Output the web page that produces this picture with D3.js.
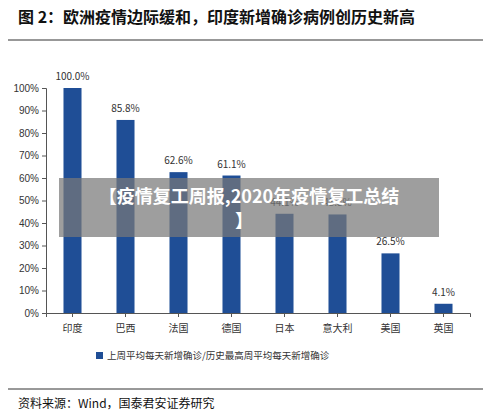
<!DOCTYPE html><html><head><meta charset="utf-8"><script src="https://cdn.jsdelivr.net/npm/d3@7"></script>
<style>body{margin:0;background:#fff}text{font-family:"Noto Sans CJK SC",sans-serif}</style></head><body><svg id="c" width="500" height="420"></svg><script>
const categories=["印度","巴西","法国","德国","日本","意大利","美国","英国"];
const values=[100.0,85.8,62.6,61.1,44.1,43.8,26.5,4.1];
const labels=["100.0%","85.8%","62.6%","61.1%","44.1%","43.8%","26.5%","4.1%"];
const yTicks=[0,10,20,30,40,50,60,70,80,90,100];
const svg=d3.select("#c");
svg.append("text").attr("x",18).attr("y",23).attr("font-size",16).attr("font-weight","bold").attr("fill","#111").text("图 2：欧洲疫情边际缓和，印度新增确诊病例创历史新高");
svg.append("line").attr("x1",8).attr("x2",483).attr("y1",40).attr("y2",40).attr("stroke","#333").attr("stroke-width",1.2);
const x=d3.scaleBand().domain(categories).range([46,470]).paddingInner(0.66).paddingOuter(0.33);
const y=d3.scaleLinear().domain([0,100]).range([313,88]);
const g=svg.append("g");
g.append("g").attr("transform","translate(46,0)").call(d3.axisLeft(y).tickValues(yTicks).tickFormat(d=>d+"%").tickSize(4)).call(a=>{a.selectAll("text").attr("font-size",10).attr("fill","#333").style("font-family","Liberation Sans");a.selectAll("path,line").attr("stroke","#555");});
g.append("g").attr("transform","translate(0,313)").call(d3.axisBottom(x).tickSize(4).tickPadding(8)).call(a=>{a.selectAll("text").attr("font-size",10).attr("fill","#333");a.selectAll("path,line").attr("stroke","#555");});
g.selectAll("rect.b").data(values).join("rect").attr("x",(d,i)=>x(categories[i])).attr("width",x.bandwidth()).attr("y",d=>y(d)).attr("height",d=>313-y(d)).attr("fill","#1f4e96");
g.selectAll("text.l").data(values).join("text").attr("x",(d,i)=>x(categories[i])+x.bandwidth()/2).attr("y",d=>y(d)-8).attr("text-anchor","middle").attr("font-size",10).attr("fill","#333").text((d,i)=>labels[i]);
svg.append("rect").attr("x",96).attr("y",352).attr("width",7).attr("height",7).attr("fill","#1f4e96");
svg.append("text").attr("x",107).attr("y",359).attr("font-size",9.5).attr("fill","#333").text("上周平均每天新增确诊/历史最高周平均每天新增确诊");
svg.append("line").attr("x1",8).attr("x2",483).attr("y1",389).attr("y2",389).attr("stroke","#333").attr("stroke-width",1);
svg.append("text").attr("x",18).attr("y",408).attr("font-size",12).attr("fill","#111").text("资料来源：Wind，国泰君安证券研究");
svg.append("rect").attr("x",59).attr("y",178).attr("width",380).attr("height",59).attr("fill","rgba(120,120,120,0.72)");
svg.append("text").attr("x",249).attr("y",203).attr("text-anchor","middle").attr("font-size",18).attr("font-weight","bold").attr("fill","#fff").text("【疫情复工周报,2020年疫情复工总结");
svg.append("text").attr("x",244).attr("y",227).attr("text-anchor","middle").attr("font-size",18).attr("font-weight","bold").attr("fill","#fff").text("】");
</script></body></html>
